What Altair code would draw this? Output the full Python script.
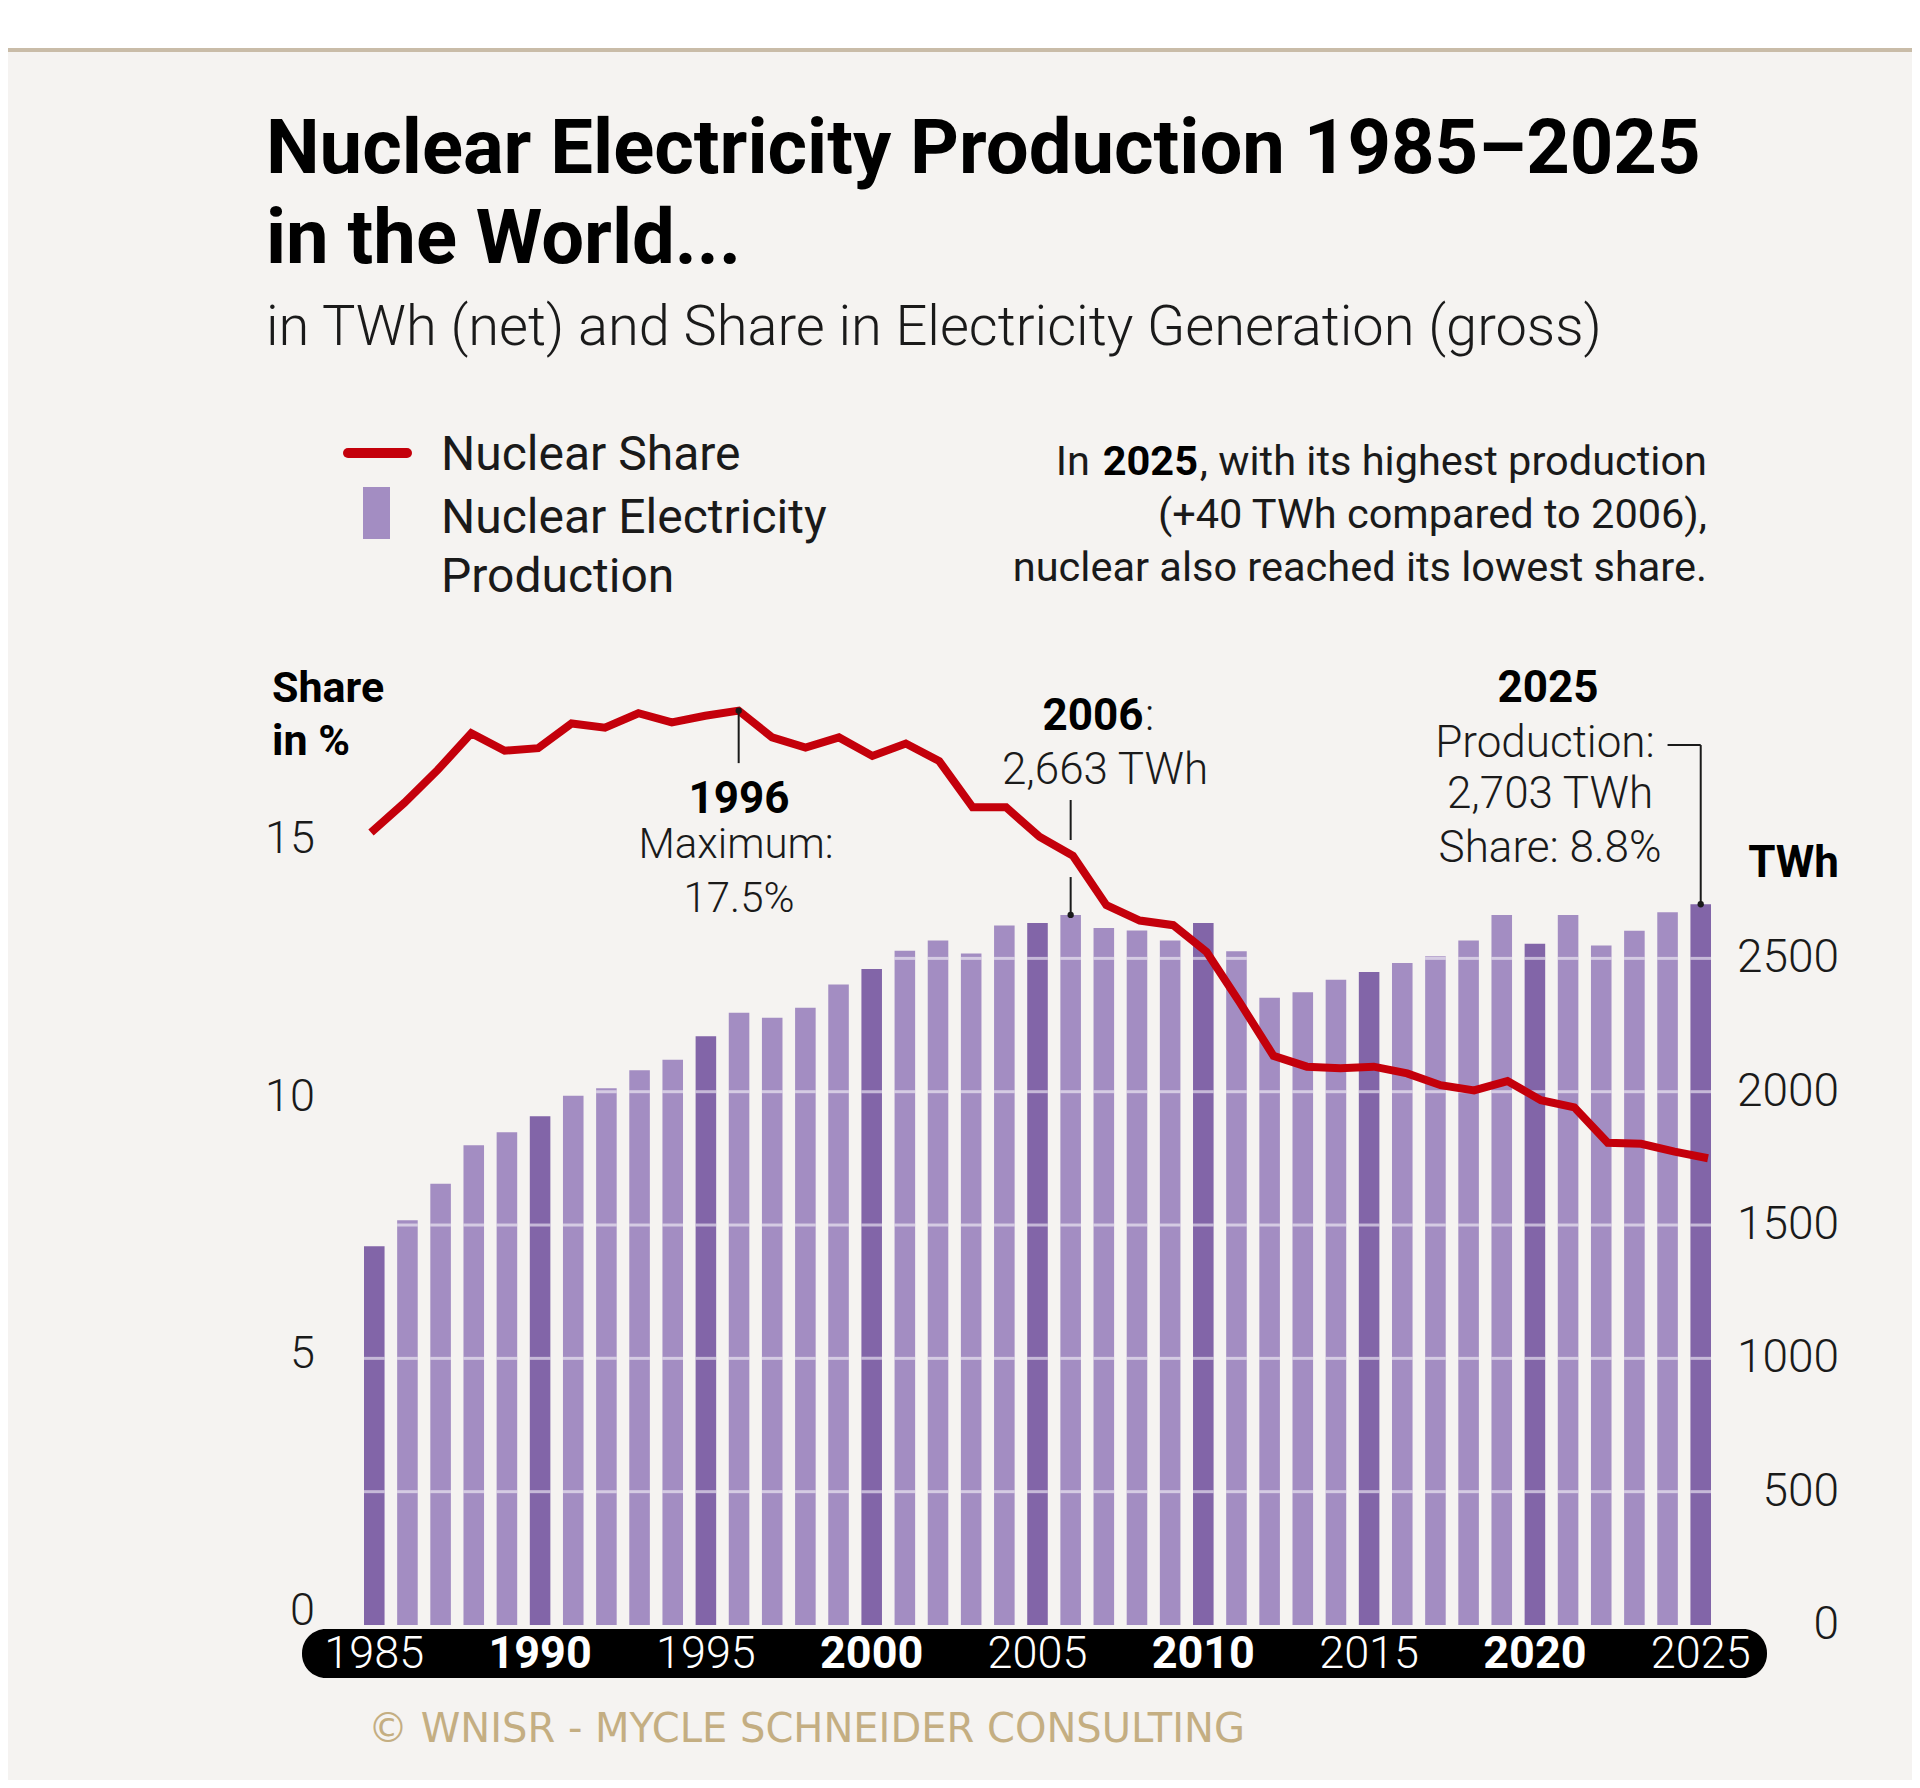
import altair as alt
import pandas as pd

# ---------------- data ----------------
YEARS = list(range(1985, 2026))
PRODUCTION_TWH = [1420, 1518, 1655, 1799, 1848, 1908, 1985, 2013, 2080, 2120,
                  2208, 2296, 2277, 2315, 2402, 2460, 2529, 2567, 2518, 2623,
                  2633, 2663, 2614, 2605, 2567, 2633, 2527, 2352, 2373, 2420,
                  2449, 2483, 2508, 2567, 2663, 2555, 2663, 2548, 2604, 2673,
                  2703]
SHARE_PCT = [15.13, 15.71, 16.35, 17.06, 16.72, 16.77, 17.25, 17.17, 17.45, 17.27,
             17.40, 17.50, 16.98, 16.78, 16.98, 16.62, 16.86, 16.52, 15.62, 15.62,
             15.05, 14.68, 13.72, 13.42, 13.33, 12.81, 11.82, 10.79, 10.58, 10.55,
             10.58, 10.45, 10.22, 10.12, 10.30, 9.93, 9.79, 9.10, 9.08, 8.93,
             8.80]
TWH_TICKS = [0, 500, 1000, 1500, 2000, 2500]
TWH_GRID = [500, 1000, 1500, 2000, 2500]
SHARE_TICKS = [0, 5, 10, 15]
YEAR_TICKS = list(range(1985, 2026, 5))

# annotated points
MAX_YEAR, MAX_SHARE = 1996, 17.5
Y2006, TWH_2006 = 2006, 2663
Y2025, TWH_2025 = 2025, 2703

df = pd.DataFrame({"year": YEARS, "twh": PRODUCTION_TWH, "share": SHARE_PCT})

# grid segments drawn only across the bars that reach each grid level
GRID_HALF = 5.6  # half thickness of a grid stripe, in TWh
grid_rows = []
for yr, v in zip(YEARS, PRODUCTION_TWH):
    for g in TWH_GRID:
        if v > g - GRID_HALF:
            grid_rows.append({"year": yr, "lo": g - GRID_HALF, "hi": min(g + GRID_HALF, v)})
grid_df = pd.DataFrame(grid_rows)

# ---------------- styling / layout ----------------
W, H = 1347, 985
TWH_DOMAIN = [0, 3694]
SHARE_DOMAIN = [-0.272, 18.873]
FONT = "Roboto, 'Liberation Sans', sans-serif"
FOOT_FONT = "'DejaVu Sans', Verdana, sans-serif"
INK = "#1a1a1a"
DARK = "#8265a8"
LIGHT = "#a38dc2"
RED = "#c4000b"
BG = "#f5f3f1"

xs = alt.Scale(type="band", domain=YEARS, paddingInner=0.38, paddingOuter=0)
xq = alt.Scale(domain=[YEARS[0], YEARS[-1]], range=[7, 1344], nice=False, zero=False)
twh_scale = alt.Scale(domain=TWH_DOMAIN, nice=False, zero=False)
share_scale = alt.Scale(domain=SHARE_DOMAIN, nice=False, zero=False)

X = alt.X("year:O", scale=xs, axis=None)
XQ = alt.X("year:Q", scale=xq, axis=None)

one = alt.Data(values=[{"k": 1}])


def shape(mark, **enc):
    return alt.Chart(one).mark_rect(**mark).encode(**enc)


def txt(s, x, y, size, weight=400, align="left", color=INK, font=FONT):
    return alt.Chart(alt.Data(values=[{"t": s}])).mark_text(
        align=align, baseline="alphabetic", fontSize=size, fontWeight=weight,
        font=font, color=color,
    ).encode(x=alt.value(x), y=alt.value(y), text="t:N")


# ---------------- decorations ----------------
white_band = shape({"color": "white"}, x=alt.value(-356), x2=alt.value(1548),
                   y=alt.value(-632), y2=alt.value(-592))
tan_rule = shape({"color": "#c9bca8"}, x=alt.value(-356), x2=alt.value(1548),
                 y=alt.value(-592), y2=alt.value(-588))
pill = shape({"color": "#000000", "cornerRadius": 24}, x=alt.value(-62),
             x2=alt.value(1403), y=alt.value(989), y2=alt.value(1038))
legend_rect = shape({"color": LIGHT}, x=alt.value(-1), x2=alt.value(26),
                    y=alt.value(-153), y2=alt.value(-101))
legend_line = alt.Chart(one).mark_rule(color=RED, strokeWidth=10, strokeCap="round").encode(
    x=alt.value(-16), x2=alt.value(43), y=alt.value(-187))

# year labels inside the black pill
year_df = pd.DataFrame({"year": YEAR_TICKS})
year_bold = alt.Chart(year_df).transform_filter("datum.year % 10 == 0").mark_text(
    align="center", baseline="middle", fontSize=45, fontWeight="bold", font=FONT,
    color="white").encode(x=alt.X("year:O", scale=xs, axis=None, bandPosition=0.5),
                          y=alt.value(1013.5), text=alt.Text("year:N"))
year_light = alt.Chart(year_df).transform_filter("datum.year % 10 != 0").mark_text(
    align="center", baseline="middle", fontSize=45, fontWeight=300, font=FONT,
    color="white").encode(x=alt.X("year:O", scale=xs, axis=None, bandPosition=0.5),
                          y=alt.value(1013.5), text=alt.Text("year:N"))

# ---------------- TWh layers ----------------
bars = alt.Chart(df).mark_bar().encode(
    x=X,
    y=alt.Y("twh:Q", scale=twh_scale, axis=None),
    color=alt.condition("datum.year % 5 == 0", alt.value(DARK), alt.value(LIGHT)),
)
grid = alt.Chart(grid_df).mark_bar(color="white", opacity=0.55).encode(
    x=X, y=alt.Y("lo:Q", scale=twh_scale, axis=None), y2="hi:Q")

twh_labels = alt.Chart(pd.DataFrame({"v": TWH_TICKS})).mark_text(
    align="right", baseline="middle", fontSize=46, fontWeight=300, font=FONT,
    color=INK).encode(
    x=alt.value(1475), y=alt.Y("v:Q", scale=twh_scale, axis=None),
    text=alt.Text("v:Q", format="d"))

lead_2006 = alt.Chart(pd.DataFrame({
    "year": [Y2006, Y2006], "a": [3094, 2805], "b": [2944, TWH_2006]})).mark_rule(
    color=INK, strokeWidth=2).encode(
    x=X, y=alt.Y("a:Q", scale=twh_scale, axis=None), y2="b:Q")
lead_2025v = alt.Chart(pd.DataFrame({"year": [Y2025], "a": [3300], "b": [TWH_2025]})).mark_rule(
    color=INK, strokeWidth=2).encode(
    x=X, y=alt.Y("a:Q", scale=twh_scale, axis=None), y2="b:Q")
lead_2025h = alt.Chart(pd.DataFrame({"x1": [Y2025 - 1], "x2": [Y2025], "a": [3300]})).mark_rule(
    color=INK, strokeWidth=2).encode(
    x=alt.X("x1:O", scale=xs, axis=None, bandPosition=0.5),
    x2=alt.X2("x2", bandPosition=0.5),
    y=alt.Y("a:Q", scale=twh_scale, axis=None))
dots_twh = alt.Chart(pd.DataFrame({"year": [Y2006, Y2025], "v": [TWH_2006, TWH_2025]})).mark_circle(
    color=INK, size=40, opacity=1).encode(
    x=X, y=alt.Y("v:Q", scale=twh_scale, axis=None))

twh_group = alt.layer(bars, grid, twh_labels, lead_2006, lead_2025v, lead_2025h, dots_twh)

# ---------------- share layers ----------------
line = alt.Chart(df).mark_line(color=RED, strokeWidth=8, strokeJoin="miter").encode(
    x=XQ, y=alt.Y("share:Q", scale=share_scale, axis=None))
share_labels = alt.Chart(pd.DataFrame({"v": SHARE_TICKS})).mark_text(
    align="right", baseline="middle", fontSize=45, fontWeight=300, font=FONT,
    color=INK).encode(
    x=alt.value(-49), y=alt.Y("v:Q", scale=share_scale, axis=None),
    text=alt.Text("v:Q", format="d"))
lead_1996 = alt.Chart(pd.DataFrame({"year": [MAX_YEAR], "a": [MAX_SHARE], "b": [16.48]})).mark_rule(
    color=INK, strokeWidth=2).encode(
    x=XQ, y=alt.Y("a:Q", scale=share_scale, axis=None), y2="b:Q")
dot_1996 = alt.Chart(pd.DataFrame({"year": [MAX_YEAR], "v": [MAX_SHARE]})).mark_circle(
    color=INK, size=40, opacity=1).encode(
    x=XQ, y=alt.Y("v:Q", scale=share_scale, axis=None))

share_group = alt.layer(line, share_labels, lead_1996, dot_1996)

# ---------------- texts ----------------
texts = [
    txt("Nuclear Electricity Production 1985–2025", -98, -467, 76, "bold", color="#000000"),
    txt("in the World...", -98, -377, 76, "bold", color="#000000"),
    txt("in TWh (net) and Share in Electricity Generation (gross)", -98, -295, 56, 300),
    txt("Nuclear Share", 77, -170, 48, 400),
    txt("Nuclear Electricity", 77, -107, 48, 400),
    txt("Production", 77, -48, 48, 400),
    txt("In", 726, -165, 41.5, 400, "right"),
    txt("2025", 834, -165, 41.5, "bold", "right", color="#000000"),
    txt(", with its highest production", 1343, -165, 41.5, 400, "right"),
    txt("(+40 TWh compared to 2006),", 1343, -112, 41.5, 400, "right"),
    txt("nuclear also reached its lowest share.", 1343, -59, 41.5, 400, "right"),
    txt("Share", -92, 62, 43, "bold", color="#000000"),
    txt("in %", -92, 115, 43, "bold", color="#000000"),
    txt("TWh", 1475, 237, 44, "bold", "right", color="#000000"),
    txt("1996", 375, 173, 44, "bold", "center", color="#000000"),
    txt("Maximum:", 372, 218, 42, 300, "center"),
    txt("17.5%", 375, 272, 42, 300, "center"),
    txt("2006", 729, 90, 44, "bold", "center", color="#000000"),
    txt(":", 781, 90, 44, 300),
    txt("2,663 TWh", 741, 144, 44, 300, "center"),
    txt("2025", 1184, 62, 44, "bold", "center", color="#000000"),
    txt("Production:", 1181, 117, 44, 300, "center"),
    txt("2,703 TWh", 1186, 168, 44, 300, "center"),
    txt("Share: 8.8%", 1186, 222, 44, 300, "center"),
    txt("© WNISR - MYCLE SCHNEIDER CONSULTING", 4, 1102, 40, 400, color="#c4ae82", font=FOOT_FONT),
]

chart = alt.layer(
    white_band, tan_rule, pill, legend_rect, legend_line, year_bold, year_light,
    twh_group, share_group, *texts,
).resolve_scale(x="independent", y="independent").properties(
    width=W, height=H,
    padding={"left": 356, "top": 632, "right": 201, "bottom": 155},
    autosize=alt.AutoSizeParams(type="none"),
    background=BG,
).configure_view(strokeWidth=0)

chart.save("out.html", embed_options={"renderer": "svg", "actions": False})
